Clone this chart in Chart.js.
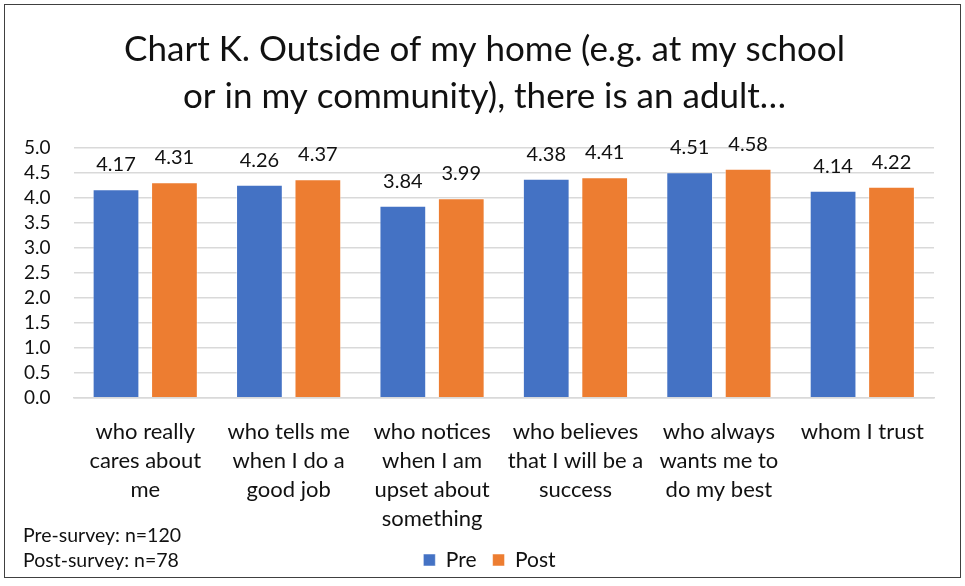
<!DOCTYPE html>
<html>
<head>
<meta charset="utf-8">
<script src="https://cdn.jsdelivr.net/npm/chart.js@4"></script>
<style>
  body { margin: 0; background: #fff; }
  #grafico { position: absolute; left: 0; top: 0; }
  #moldura {
    position: absolute; left: 4px; top: 4px;
    width: 957px; height: 574px; box-sizing: border-box;
    border: 1.5px solid #404040; pointer-events: none;
  }
  .nota {
    position: absolute; left: 23px;
    font: 19.5px Lato, sans-serif; color: #111; line-height: 20px;
  }
</style>
</head>
<body>
<canvas id="grafico" width="965" height="586"></canvas>
<div id="moldura"></div>
<div class="nota" style="top:525px">Pre-survey: n=120</div>
<div class="nota" style="top:550px">Post-survey: n=78</div>
<script>
const categorias = [
  ["who really", "cares about", "me"],
  ["who tells me", "when I do a", "good job"],
  ["who notices", "when I am", "upset about", "something"],
  ["who believes", "that I will be a", "success"],
  ["who always", "wants me to", "do my best"],
  ["whom I trust"]
];
const preValores = [4.17, 4.26, 3.84, 4.38, 4.51, 4.14];
const postValores = [4.31, 4.37, 3.99, 4.41, 4.58, 4.22];
const tituloLinhas = ["Chart K. Outside of my home (e.g. at my school", "or in my community), there is an adult…"];

// escreve o valor em cima de cada barra
const rotulosValor = {
  id: "rotulosValor",
  afterDatasetsDraw(chart) {
    const ctx = chart.ctx;
    ctx.save();
    ctx.font = "20px Lato, sans-serif";
    ctx.fillStyle = "#111";
    ctx.textAlign = "center";
    ctx.textBaseline = "alphabetic";
    chart.data.datasets.forEach((ds, i) => {
      chart.getDatasetMeta(i).data.forEach((bar, j) => {
        ctx.fillText(ds.data[j].toFixed(2), bar.x, bar.y - 18);
      });
    });
    ctx.restore();
  }
};

// ajuste fino das caixas do título e da legenda depois do layout
const ajustaCaixas = {
  id: "ajustaCaixas",
  afterLayout(chart) {
    const lg = chart.legend;
    if (lg) {
      lg.left += 22; lg.right += 22;
      lg.top -= 19.5;
      lg.height = 60;
      lg.bottom = lg.top + lg.height;
    }
    const tt = chart.titleBlock;
    if (tt) { tt.left += 17; tt.right += 17; }
  }
};

new Chart(document.getElementById("grafico").getContext("2d"), {
  type: "bar",
  data: {
    labels: categorias,
    datasets: [
      { label: "Pre", data: preValores, backgroundColor: "#4472C4", borderColor: "rgba(255,255,255,0.5)", borderWidth: 1 },
      { label: "Post", data: postValores, backgroundColor: "#ED7D31", borderColor: "rgba(255,255,255,0.5)", borderWidth: 1 }
    ]
  },
  options: {
    responsive: false,
    animation: false,
    layout: { padding: { left: 1, right: 31, top: 0, bottom: 0 } },
    datasets: { bar: { categoryPercentage: 0.815, barPercentage: 0.8 } },
    scales: {
      y: {
        min: 0, max: 5,
        border: { display: false },
        grid: { color: "#d9d9d9", lineWidth: 1.5, drawTicks: false },
        ticks: {
          stepSize: 0.5, padding: 23, color: "#111", autoSkip: false,
          font: { family: "Lato", size: 19 },
          callback: (v) => v.toFixed(1)
        }
      },
      x: {
        border: { color: "#d9d9d9", width: 1.5 },
        grid: { display: false, drawTicks: false },
        ticks: {
          color: "#111", padding: 19.5, maxRotation: 0, autoSkip: false,
          font: { family: "Lato", size: 22, lineHeight: 1.32 }
        }
      }
    },
    plugins: {
      title: {
        display: true, text: tituloLinhas, color: "#111",
        font: { family: "Lato", size: 35, weight: "normal", lineHeight: 1.34 },
        padding: { top: 26, bottom: 28 }
      },
      legend: {
        position: "bottom",
        maxHeight: 33,
        labels: {
          color: "#111", boxWidth: 12, boxHeight: 12, padding: 16,
          font: { family: "Lato", size: 21 }
        }
      },
      tooltip: { enabled: false }
    }
  },
  plugins: [rotulosValor, ajustaCaixas]
});
</script>
</body>
</html>
